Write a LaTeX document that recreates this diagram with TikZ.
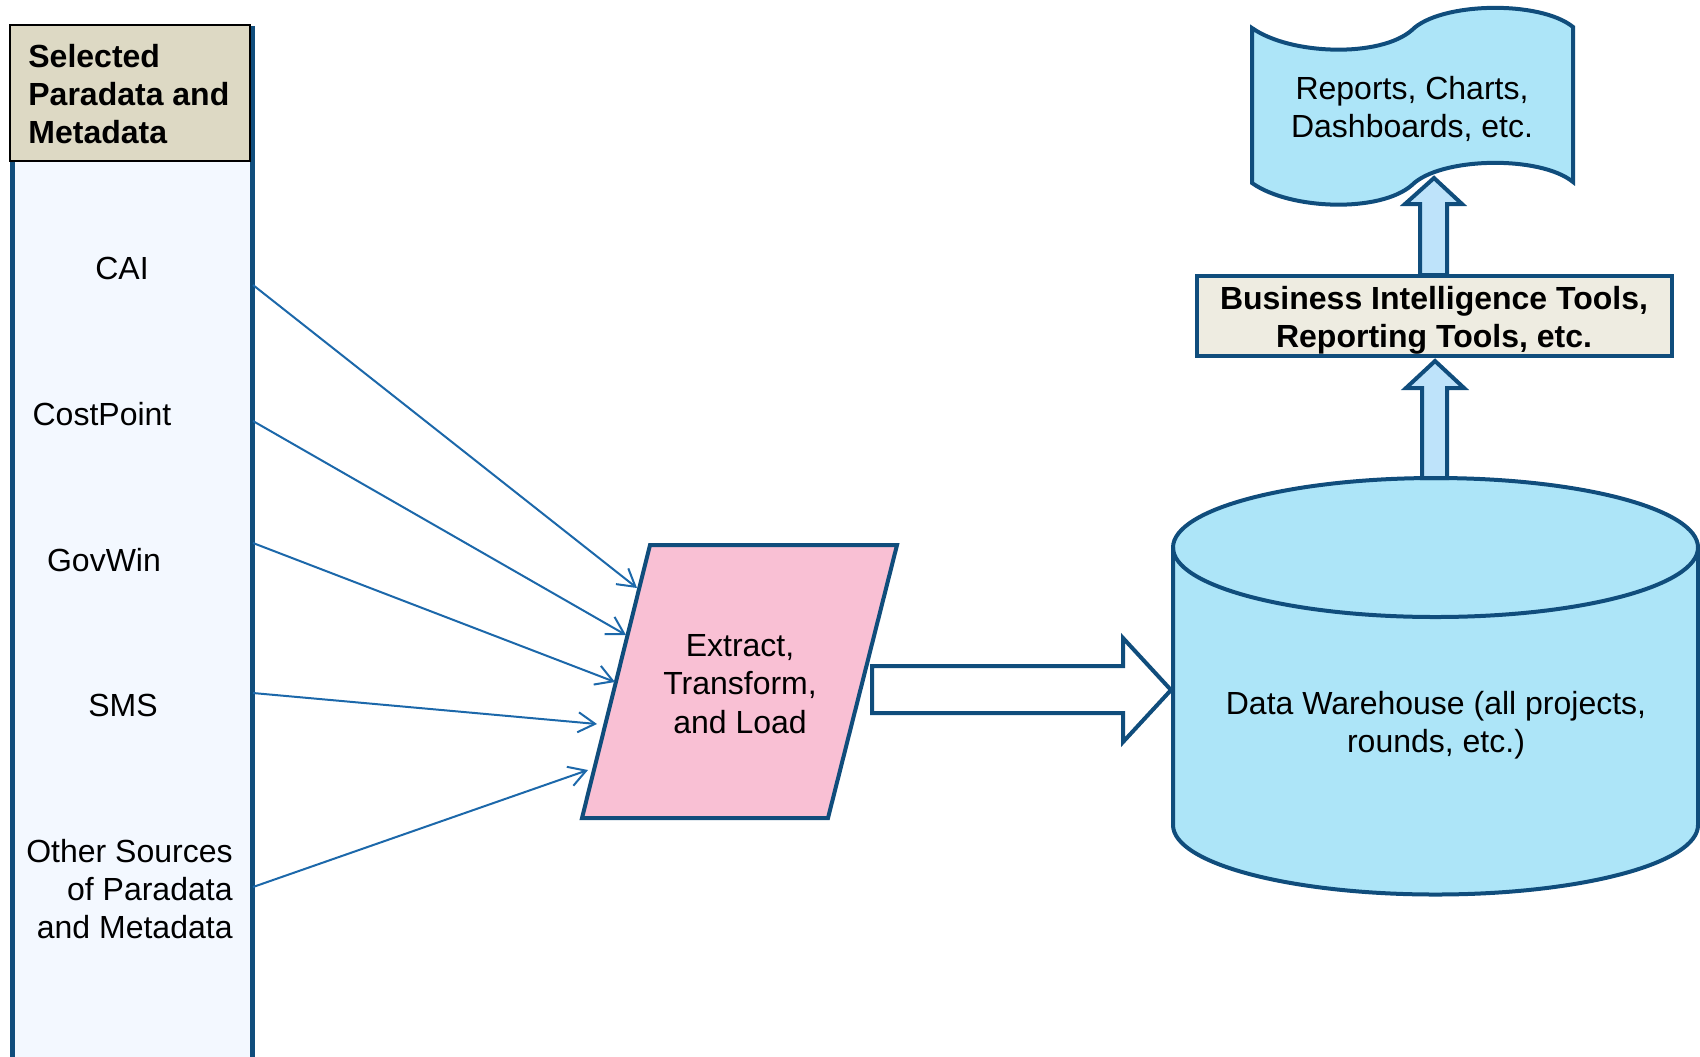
\documentclass[tikz,border=0pt]{standalone}
\usepackage{fontspec}
\setmainfont{Liberation Sans}
\usetikzlibrary{arrows.meta}
\definecolor{edgeblue}{RGB}{16,77,124}
\definecolor{linkblue}{RGB}{28,104,170}
\definecolor{panelfill}{RGB}{243,248,255}
\definecolor{headfill}{RGB}{221,217,196}
\definecolor{toolfill}{RGB}{238,236,225}
\definecolor{etlfill}{RGB}{249,192,212}
\definecolor{storefill}{RGB}{173,229,248}
\definecolor{upfill}{RGB}{190,227,250}
\begin{document}
\begin{tikzpicture}[x=0.5pt,y=-0.5pt,
  txt/.style={font=\fontsize{16}{19.2}\selectfont, inner sep=0pt, align=center},
  btxt/.style={txt, font=\fontsize{16}{19.2}\selectfont\bfseries},
  feed/.style={draw=linkblue, line width=1pt, -{Straight Barb[length=8.5pt,width=10pt]}},
  thick edge/.style={draw=edgeblue, line width=2pt, line join=miter},
  uparrow/.style={thick edge, fill=upfill}]
\useasboundingbox (0,0) rectangle (1700,1056);

% source panel with its header
\draw[draw=edgeblue, fill=panelfill, line width=2.5pt] (12,28) rectangle (252,1060);
\draw[draw=black, fill=headfill, line width=1pt] (9.5,25) rectangle (250,161);
\node[btxt, align=left, anchor=west] (head) at (28,94) {Selected\\Paradata and\\Metadata};

\node[txt] (cai) at (122,268) {CAI};
\node[txt] (cost) at (102,414) {CostPoint};
\node[txt] (gov) at (104,560) {GovWin};
\node[txt] (sms) at (123,705) {SMS};
\node[txt, align=right, anchor=east] (other) at (233,889) {Other Sources\\of Paradata\\and Metadata};

\coordinate (out1) at (253,285);
\coordinate (out2) at (253,421);
\coordinate (out3) at (253,543);
\coordinate (out4) at (253,693);
\coordinate (out5) at (253,887);

% extract / transform / load step
\draw[thick edge, fill=etlfill] (650,545) -- (897,545) -- (828,818) -- (582,818) -- cycle;
\node[txt] (etl) at (740,684) {Extract,\\Transform,\\and Load};

\coordinate (in1) at (637,588);
\coordinate (in2) at (626,635);
\coordinate (in3) at (615,682);
\coordinate (in4) at (597,724);
\coordinate (in5) at (588,770);

\draw[feed] (out1) -- (in1);
\draw[feed] (out2) -- (in2);
\draw[feed] (out3) -- (in3);
\draw[feed] (out4) -- (in4);
\draw[feed] (out5) -- (in5);

% block arrow into the warehouse
\draw[thick edge, fill=white] (872,666) -- (1123,666) -- (1123,638) -- (1171,690)
  -- (1123,742) -- (1123,713) -- (872,713) -- cycle;

% data warehouse cylinder
\draw[thick edge, fill=storefill]
  (1173,547.5) -- (1173,825)
  .. controls (1173,863.4) and (1290.5,894.5) .. (1435.5,894.5)
  .. controls (1580.5,894.5) and (1698,863.4) .. (1698,825)
  -- (1698,547.5)
  .. controls (1698,509.1) and (1580.5,478) .. (1435.5,478)
  .. controls (1290.5,478) and (1173,509.1) .. (1173,547.5) -- cycle;
\draw[thick edge]
  (1173,547.5) .. controls (1173,585.9) and (1290.5,617) .. (1435.5,617)
  .. controls (1580.5,617) and (1698,585.9) .. (1698,547.5);
\node[txt] (dw) at (1436,725) {Data Warehouse (all projects,\\rounds, etc.)};

% warehouse up to the tools
\draw[uparrow] (1422,478) -- (1422,388) -- (1406,388) -- (1435,361) -- (1464,388)
  -- (1447,388) -- (1447,478) -- cycle;

% reporting tools
\draw[thick edge, fill=toolfill] (1197,276) rectangle (1672,356);
\node[btxt] (bi) at (1434,320) {Business Intelligence Tools,\\Reporting Tools, etc.};

% tools up to the outputs
\draw[uparrow] (1420,275) -- (1420,204) -- (1405,204) -- (1434,178) -- (1462,204)
  -- (1447,204) -- (1447,275) -- cycle;

% printed outputs (tape shape)
\draw[thick edge, fill=storefill]
  (1252,28) .. controls (1290,55) and (1380,58) .. (1412,30)
  .. controls (1440,2) and (1540,0) .. (1573,27)
  -- (1573,182)
  .. controls (1540,155) and (1440,157) .. (1412,185)
  .. controls (1380,213) and (1290,210) .. (1252,183) -- cycle;
\node[txt] (docs) at (1412,109) {Reports, Charts,\\Dashboards, etc.};
\end{tikzpicture}
\end{document}
